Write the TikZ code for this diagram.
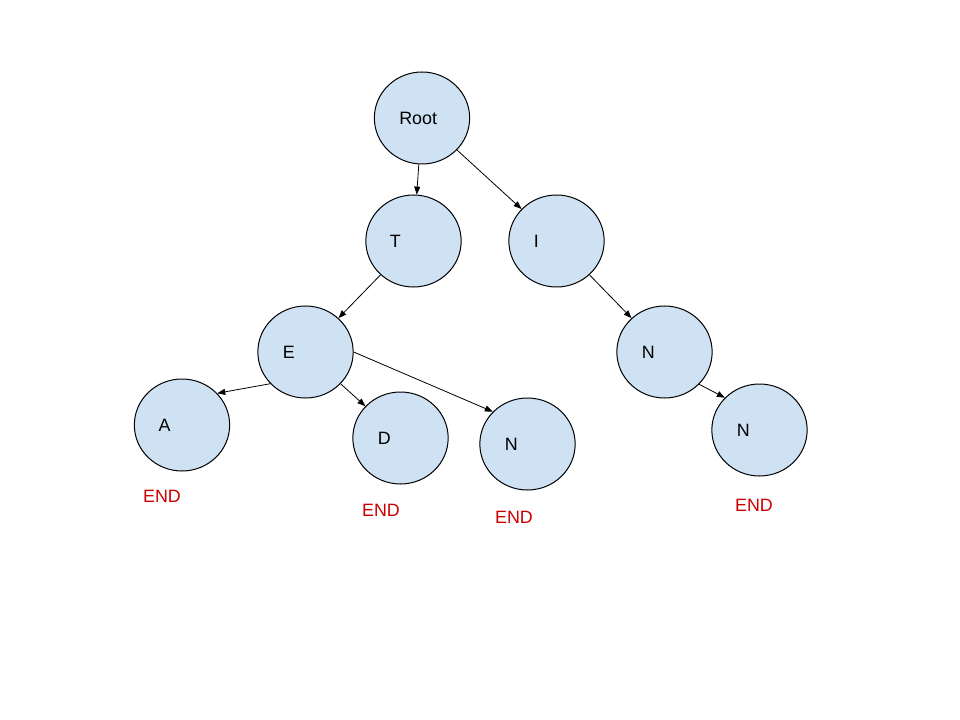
\documentclass[tikz,border=0pt]{standalone}
\usepackage{fontspec}
\setmainfont{Liberation Sans}
\usetikzlibrary{
    arrows.meta,
    shapes.geometric
}
\definecolor{LightBlue}{RGB}{207,226,243}
\definecolor{EndRed}{RGB}{204,0,0}

\begin{document}
\begin{tikzpicture}[
    x=0.75pt,
    y=-0.75pt,
    >={Triangle[length=6pt,width=4.5pt]},
    font=\fontsize{13.4}{16}\selectfont,
    trienode/.style={
        draw,
        line width=0.75pt,
        ellipse,
        fill=LightBlue,
        inner sep=0pt,
        minimum width=71.5pt,
        minimum height=69pt
    },
    letter/.style={
        anchor=west,
        inner sep=0pt
    },
    endmark/.style={
        text=EndRed,
        inner sep=0pt
    },
    edge/.style={
        ->,
        line width=0.6pt
    }
]

\useasboundingbox (0,0) rectangle (960,720);

% trie nodes
\node[trienode] (root) at (422,118) {};
\node[trienode] (t) at (413.5,241) {};
\node[trienode] (i) at (556.5,241) {};
\node[trienode] (e) at (305.5,352) {};
\node[trienode] (n) at (664.5,352) {};
\node[trienode] (a) at (182,425) {};
\node[trienode] (d) at (400.5,438) {};
\node[trienode] (en) at (527.5,444) {};
\node[trienode] (nn) at (759.5,430) {};

% letters, set off to the left of each centre
\node[letter] (roottext) at ([xshift=-17.25pt] root.center) {Root};
\node[letter] (ttext) at ([xshift=-18pt] t.center) {T};
\node[letter] (itext) at ([xshift=-17.25pt] i.center) {I};
\node[letter] (etext) at ([xshift=-17.25pt] e.center) {E};
\node[letter] (ntext) at ([xshift=-17.25pt] n.center) {N};
\node[letter] (atext) at ([xshift=-17.75pt] a.center) {A};
\node[letter] (dtext) at ([xshift=-17.25pt] d.center) {D};
\node[letter] (entext) at ([xshift=-17.25pt] en.center) {N};
\node[letter] (nntext) at ([xshift=-17.25pt] nn.center) {N};

% end markers
\node[endmark] (enda) at (162,496) {END};
\node[endmark] (endd) at (381,510) {END};
\node[endmark] (enden) at (514,517) {END};
\node[endmark] (endnn) at (754,505) {END};

% edges
\draw[edge] (root) -- (t);
\draw[edge] (root) -- (i);
\draw[edge] (t) -- (e);
\draw[edge] (i) -- (n);
\draw[edge] (e.222) -- (a.42);
\draw[edge] (e) -- (d);
\draw[edge] (e.east) -- (en.137);
\draw[edge] (n.317) -- (nn.137);

\end{tikzpicture}
\end{document}
